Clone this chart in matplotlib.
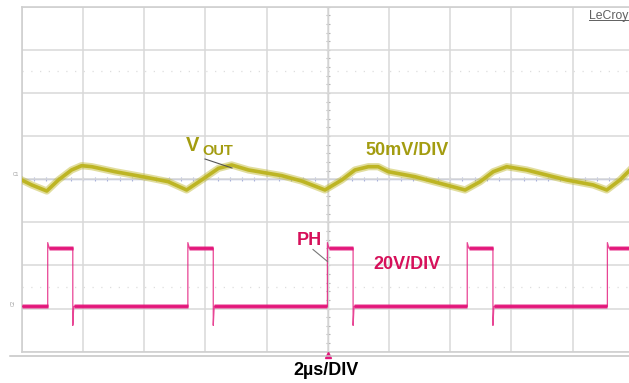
import numpy as np
import matplotlib
matplotlib.use("Agg")
import matplotlib.pyplot as plt
from matplotlib.lines import Line2D

plt.rcParams['font.family'] = ['Liberation Sans', 'DejaVu Sans']

# ---- scope settings ----
TIME_PER_DIV = 2.0        # us/div
VOUT_PER_DIV = 50.0       # mV/div
PH_PER_DIV = 20.0         # V/div
VOUT_REF_DIV = 4.0        # C1 reference level (divisions from bottom)
PH_REF_DIV = 1.05         # C2 ground level (divisions from bottom)
TRIGGER_T = 10.0          # us

# ---- VOUT ripple (time in us, ripple in mV) ----
vout_t = [0.0, 0.33, 0.82, 1.20, 1.63, 1.96, 2.29, 3.05, 4.14, 4.79, 5.39,
          5.88, 6.43, 6.86, 7.41, 8.50, 9.15, 9.91, 10.46, 10.89, 11.33,
          11.65, 11.98, 12.85, 13.67, 14.49, 14.98, 15.41, 15.85, 16.50,
          17.37, 17.81, 18.68, 19.12, 19.55, 19.88]
vout_mv = [-0.9, -6.7, -13.7, -0.9, 10.7, 15.7, 14.5, 8.7, 1.7, -2.9, -12.5,
           -0.9, 12.6, 16.5, 10.7, 4.1, -2.1, -12.5, -0.9, 10.7, 14.5,
           14.5, 8.7, 2.9, -4.8, -12.5, -2.9, 8.7, 14.5, 10.7,
           2.9, -0.9, -6.7, -12.5, -0.9, 10.7]

# ---- PH switch node (edges in us, levels in V) ----
ph_rise = [0.85, 5.43, 9.99, 14.56, 19.14]
ph_fall = [1.67, 6.26, 10.83, 15.40]
ph_low = 0.0
ph_high = 27.0
ph_spike = 29.6
ph_undershoot = -8.8

VOUT_COLOR = '#bdb524'
VOUT_TEXT = '#a39c10'
PH_COLOR = '#e3167a'
PH_TEXT = '#d6105a'
GRID = '#d9d9d9'

W, H = 629, 383
fig = plt.figure(figsize=(W / 100, H / 100), dpi=100)
fig.patch.set_facecolor('white')

left_px, top_px, bottom_px, div_px = 21.7, 6.7, 351.7, 61.2
ax = fig.add_axes([left_px / W, (H - bottom_px) / H, 10 * div_px / W,
                   (bottom_px - top_px) / H])
ax.set_xlim(0, 10 * TIME_PER_DIV)
ax.set_ylim(0, 8)
ax.set_xticks(np.arange(0, 10 * TIME_PER_DIV + 0.1, TIME_PER_DIV))
ax.set_yticks(np.arange(0, 9, 1))
ax.tick_params(length=0, labelbottom=False, labelleft=False)
ax.grid(True, color=GRID, lw=1.1)
for s in ax.spines.values():
    s.set_color('#cfcfcf')
    s.set_linewidth(1.2)

# faint half-division dotted lines
for yy in (1.5, 6.5):
    ax.axhline(yy, color='#dedede', lw=0.9, ls=(0, (1, 6)), zorder=1)

# centre crosshair with minor ticks
ax.axvline(TRIGGER_T, color='#c2c2c2', lw=1.0, zorder=1)
ax.axhline(VOUT_REF_DIV, color='#aab3da', lw=1.0, zorder=1)
minor_x = np.arange(0, 20.01, TIME_PER_DIV / 5)
ax.plot(minor_x, np.full(minor_x.size, VOUT_REF_DIV), ls='none', marker='|',
        ms=3.5, mew=0.8, color='#aab3da', zorder=1)
minor_y = np.arange(0, 8.01, 0.2)
ax.plot(np.full(minor_y.size, TRIGGER_T), minor_y, ls='none', marker='_',
        ms=3.5, mew=0.8, color='#b5b5b5', zorder=1)

# VOUT trace
vy = VOUT_REF_DIV + np.array(vout_mv) / VOUT_PER_DIV
ax.plot(vout_t, vy, color=VOUT_COLOR, lw=5.2, alpha=0.45,
        solid_joinstyle='round', zorder=3)
ax.plot(vout_t, vy, color=VOUT_COLOR, lw=2.6, solid_joinstyle='round', zorder=4)

# PH trace: thin edges plus thicker plateaus
t_end = 10 * TIME_PER_DIV
pt, pv = [0.0], [ph_low]
for i, r in enumerate(ph_rise):
    pt += [r, r, r + 0.05]
    pv += [ph_low, ph_spike, ph_high]
    if i < len(ph_fall):
        f = ph_fall[i]
        pt += [f, f, f + 0.03]
        pv += [ph_high, ph_undershoot, ph_low]
    else:
        pt += [t_end]
        pv += [ph_high]
py = PH_REF_DIV + np.array(pv) / PH_PER_DIV
ax.plot(pt, py, color=PH_COLOR, lw=0.9, alpha=0.8, zorder=3)

starts = [0.0] + [f + 0.03 for f in ph_fall]
for i, s in enumerate(starts):
    e = ph_rise[i]
    for lw, a in ((3.6, 0.45), (2.0, 1.0)):
        ax.plot([s, e], [PH_REF_DIV + ph_low / PH_PER_DIV] * 2,
                color=PH_COLOR, lw=lw, alpha=a, solid_capstyle='butt', zorder=4)
for i, r in enumerate(ph_rise):
    e = ph_fall[i] if i < len(ph_fall) else t_end
    for lw, a in ((3.6, 0.45), (2.0, 1.0)):
        ax.plot([r + 0.05, e], [PH_REF_DIV + ph_high / PH_PER_DIV] * 2,
                color=PH_COLOR, lw=lw, alpha=a, solid_capstyle='butt', zorder=4)

# trigger marker
ax.plot([TRIGGER_T], [-0.08], marker='^', ms=4, color=PH_COLOR,
        clip_on=False, zorder=5)


def fx(px):
    return px / W


def fy(py_):
    return 1 - py_ / H


# outer frame line under the grid
fig.add_artist(Line2D([fx(10), 1.0], [fy(356)] * 2, color='#c4c4c4', lw=1.1))

# channel markers
fig.text(fx(12.5), fy(176), 'C1', fontsize=3.5, color='#9a9a9a')
fig.text(fx(11), fy(305), 'C2', fontsize=3.5, color='#a0a0a0', rotation=90)

# labels
bold = dict(fontweight='bold', va='baseline', ha='left')
fig.text(fx(186), fy(151), 'V', fontsize=14.5, color=VOUT_TEXT, **bold)
fig.text(fx(202), fy(155), 'OUT', fontsize=10.5, color=VOUT_TEXT, **bold)
fig.text(fx(365.5), fy(155), '50mV/DIV', fontsize=13, color=VOUT_TEXT, **bold)
fig.text(fx(296.5), fy(245), 'PH', fontsize=13, color=PH_TEXT, **bold)
fig.text(fx(373.3), fy(269.3), '20V/DIV', fontsize=13, color=PH_TEXT, **bold)
fig.text(fx(326), fy(375), '2µs/DIV', fontsize=13, color='black',
         fontweight='bold', va='baseline', ha='center')

# leader lines
fig.add_artist(Line2D([fx(205), fx(232)], [fy(159), fy(168)],
                      color='#555555', lw=0.8))
fig.add_artist(Line2D([fx(313), fx(327.5)], [fy(249.5), fy(261.5)],
                      color='#777777', lw=0.8))

# instrument badge
fig.text(fx(589), fy(18.5), 'LeCroy', fontsize=8.8, color='#606060',
         va='baseline', ha='left')
fig.add_artist(Line2D([fx(589), 1.0], [fy(20.3)] * 2, color='#606060', lw=0.7))

fig.savefig('out.png', dpi=100, facecolor='white')
